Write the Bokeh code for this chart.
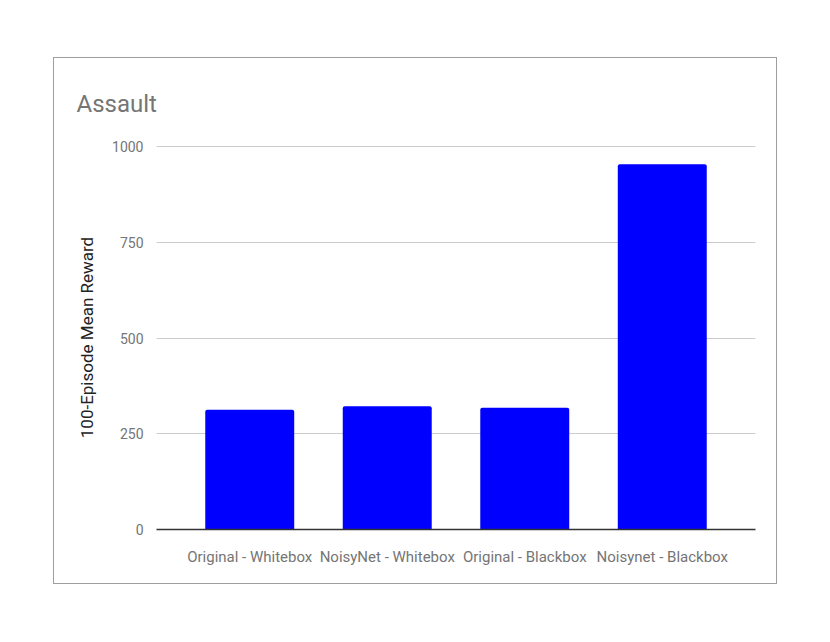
from bokeh.plotting import figure
from bokeh.models import FactorRange, Range1d, ColumnDataSource, FixedTicker
from bokeh.embed import file_html
from bokeh.resources import INLINE

categories = ["Original - Whitebox", "NoisyNet - Whitebox", "Original - Blackbox", "Noisynet - Blackbox"]
rewards = [313, 322, 318, 954]
y_ticks = [0, 250, 500, 750, 1000]

source = ColumnDataSource(data=dict(cat=categories, reward=rewards))

p = figure(
    x_range=FactorRange(factors=categories, range_padding=0.178, range_padding_units="absolute"),
    y_range=Range1d(0, 1003),
    width=724, height=527,
    output_backend="svg", toolbar_location=None,
    title="Assault",
    min_border_left=102, min_border_right=23, min_border_top=87, min_border_bottom=56,
)
p.margin = (57, 0, 0, 53)
p.styles = {"border": "1px solid #9e9e9e"}

p.vbar(x="cat", top="reward", width=0.647, source=source, fill_color="#0000ff",
       line_color=None, border_radius=(2, 2, 0, 0))

p.title.text_font = "Roboto"
p.title.text_font_size = "24px"
p.title.text_font_style = "normal"
p.title.text_color = "#757575"
p.title.align = "left"
p.title.offset = -80
p.title.standoff = 55

p.outline_line_color = None
p.xgrid.grid_line_color = None
p.ygrid.grid_line_color = "#cccccc"
p.ygrid.grid_line_width = 1

p.yaxis.ticker = FixedTicker(ticks=y_ticks)
p.yaxis.axis_line_color = None
p.yaxis.major_tick_line_color = None
p.yaxis.minor_tick_line_color = None
p.yaxis.major_label_standoff = 7
p.yaxis.major_label_text_font = "Roboto"
p.yaxis.major_label_text_font_size = "14px"
p.yaxis.major_label_text_color = "#757575"
p.yaxis.axis_label = "100-Episode Mean Reward"
p.yaxis.axis_label_text_font = "Roboto"
p.yaxis.axis_label_text_font_size = "17px"
p.yaxis.axis_label_text_font_style = "normal"
p.yaxis.axis_label_text_color = "#222222"
p.yaxis.axis_label_standoff = 12

p.xaxis.axis_line_color = "#333333"
p.xaxis.axis_line_width = 1.5
p.xaxis.major_tick_line_color = None
p.xaxis.minor_tick_line_color = None
p.xaxis.major_label_standoff = 12
p.xaxis.major_label_text_font = "Roboto"
p.xaxis.major_label_text_font_size = "15px"
p.xaxis.major_label_text_color = "#757575"

open("out.html", "w").write(file_html(p, INLINE))
